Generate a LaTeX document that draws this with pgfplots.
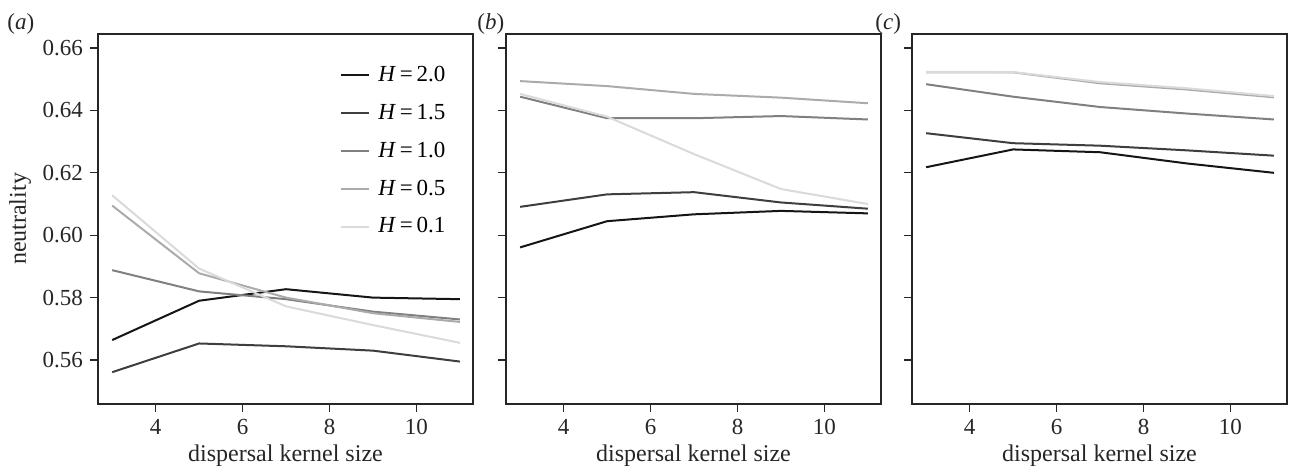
\documentclass[border=0pt]{standalone}
\usepackage{fontspec}
\setmainfont{Liberation Serif}
\usepackage{pgfplots}
\pgfplotsset{compat=1.18}

\definecolor{hA}{HTML}{151515}
\definecolor{hB}{HTML}{3E3E3E}
\definecolor{hC}{HTML}{808080}
\definecolor{hD}{HTML}{ABABAB}
\definecolor{hE}{HTML}{DADADA}
\definecolor{axgrey}{HTML}{262626}

\pgfplotsset{
  panel/.style={
    scale only axis, width=187.5pt, height=185pt, anchor=south west,
    xmin=2.674, xmax=11.30, ymin=0.5459, ymax=0.6645,
    xtick={4,6,8,10}, ytick={0.56,0.58,0.60,0.62,0.64,0.66},
    tick pos=left, tick align=outside, major tick length=4pt,
    axis line style={line width=0.6pt, axgrey},
    every tick/.style={line width=0.6pt, axgrey},
    /pgf/number format/assume math mode=true,
    yticklabel style={/pgf/number format/fixed, /pgf/number format/precision=2,
      /pgf/number format/fixed zerofill},
    tick label style={font=\fontsize{11.5}{13}\selectfont, text=axgrey},
    label style={font=\fontsize{12}{14}\selectfont, text=axgrey},
    xlabel={dispersal kernel size},
    xlabel style={yshift=1.5pt},
    ylabel style={yshift=-1pt},
    every axis plot/.append style={line width=1pt},
  },
}

\begin{document}
\begin{tikzpicture}
\useasboundingbox (0,0) rectangle (645.5pt,233pt);

% (a)
\begin{axis}[panel, at={(49pt,31pt)}, ylabel={neutrality},
  legend style={draw=none, fill=none, at={(0.645,0.925)}, anchor=north west,
    font=\fontsize{11.5}{13}\selectfont, row sep=5.8pt, inner sep=0pt,
    /tikz/every odd column/.style={column sep=2pt}},
  legend cell align=left,
  legend image code/.code={\draw[#1, line width=1pt] (0pt,0pt) -- (14pt,0pt);}]
\addplot[hA] coordinates {(3,0.5664) (5,0.5790) (7,0.5827) (9,0.5800) (11,0.5795)};
\addlegendentry{\textit{H}\,=\,2.0}
\addplot[hB] coordinates {(3,0.5561) (5,0.5653) (7,0.5644) (9,0.5630) (11,0.5595)};
\addlegendentry{\textit{H}\,=\,1.5}
\addplot[hC] coordinates {(3,0.5888) (5,0.5820) (7,0.5795) (9,0.5755) (11,0.5730)};
\addlegendentry{\textit{H}\,=\,1.0}
\addplot[hD] coordinates {(3,0.6095) (5,0.5878) (7,0.5800) (9,0.5750) (11,0.5722)};
\addlegendentry{\textit{H}\,=\,0.5}
\addplot[hE] coordinates {(3,0.6128) (5,0.5893) (7,0.5772) (9,0.5712) (11,0.5655)};
\addlegendentry{\textit{H}\,=\,0.1}
\end{axis}

% (b)
\begin{axis}[panel, at={(253pt,31pt)}, yticklabels={}]
\addplot[hA] coordinates {(3,0.5961) (5,0.6045) (7,0.6067) (9,0.6078) (11,0.6070)};
\addplot[hB] coordinates {(3,0.6091) (5,0.6131) (7,0.6138) (9,0.6105) (11,0.6085)};
\addplot[hC] coordinates {(3,0.6444) (5,0.6375) (7,0.6375) (9,0.6382) (11,0.6371)};
\addplot[hD] coordinates {(3,0.6494) (5,0.6478) (7,0.6453) (9,0.6441) (11,0.6423)};
\addplot[hE] coordinates {(3,0.6453) (5,0.6380) (7,0.6260) (9,0.6148) (11,0.6100)};
\end{axis}

% (c)
\begin{axis}[panel, at={(456pt,31pt)}, yticklabels={}]
\addplot[hA] coordinates {(3,0.6218) (5,0.6275) (7,0.6266) (9,0.6230) (11,0.6200)};
\addplot[hB] coordinates {(3,0.6327) (5,0.6295) (7,0.6287) (9,0.6272) (11,0.6255)};
\addplot[hC] coordinates {(3,0.6484) (5,0.6444) (7,0.6411) (9,0.6390) (11,0.6371)};
\addplot[hD] coordinates {(3,0.6522) (5,0.6522) (7,0.6487) (9,0.6467) (11,0.6442)};
\addplot[hE] coordinates {(3,0.6524) (5,0.6523) (7,0.6491) (9,0.6471) (11,0.6446)};
\end{axis}

\node[anchor=base west, inner sep=0pt, font=\fontsize{11.5}{13}\selectfont, text=axgrey] at (3.5pt,218pt) {(\textit{a})};
\node[anchor=base west, inner sep=0pt, font=\fontsize{11.5}{13}\selectfont, text=axgrey] at (238.5pt,218pt) {(\textit{b})};
\node[anchor=base west, inner sep=0pt, font=\fontsize{11.5}{13}\selectfont, text=axgrey] at (437.5pt,218pt) {(\textit{c})};
\end{tikzpicture}
\end{document}
